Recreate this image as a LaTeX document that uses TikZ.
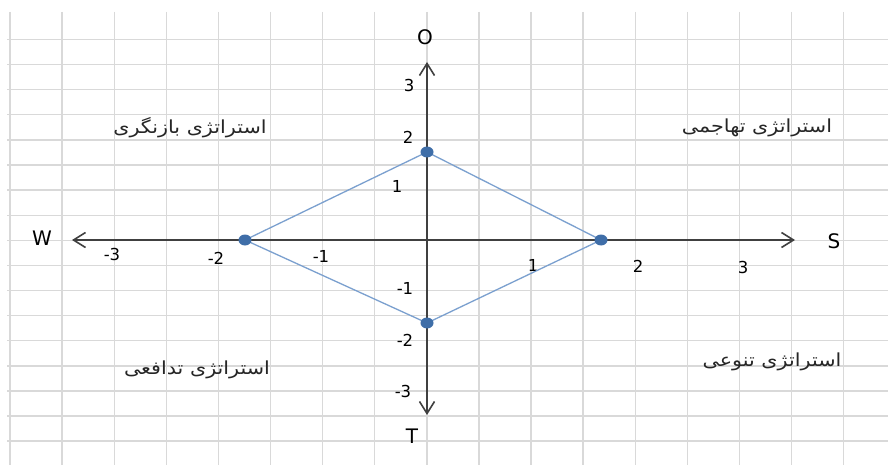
\documentclass[tikz,border=0pt]{standalone}
\usepackage{fontspec}
\setmainfont{DejaVu Sans}
\newfontfamily\arabicfont[Script=Arabic]{DejaVu Sans}
\TeXXeTstate=1
\usetikzlibrary{arrows.meta,shapes.geometric}
\definecolor{gridgray}{HTML}{D9D9D9}
\definecolor{axisgray}{HTML}{404040}
\definecolor{linebl}{HTML}{7BA0CF}
\definecolor{dotbl}{HTML}{3F6EA8}
\tikzset{
  gridline/.style={draw=gridgray, line width=1.4pt},
  axisline/.style={draw=axisgray, line width=1.8pt, -{Straight Barb[length=12pt,width=15pt,line width=1.6pt]}},
  rhomb/.style={draw=linebl, line width=1.3pt},
  dotnode/.style={ellipse, fill=dotbl, minimum width=13pt, minimum height=11pt, inner sep=0pt},
  ticklbl/.style={font=\fontsize{16.5}{16.5}\selectfont, text=black, inner sep=0pt},
  dirlbl/.style={font=\fontsize{20}{20}\selectfont, text=black, inner sep=0pt},
  stratlbl/.style={font=\fontsize{18}{20}\selectfont\arabicfont, text=black!85, inner sep=0pt, xscale=1.15}
}
\begin{document}
\begin{tikzpicture}[x=1pt,y=-1pt]
\useasboundingbox (0,0) rectangle (888,465);
\fill[white] (0,0) rectangle (888,465);
% grid
\foreach \k in {0,...,16} {
  \draw[gridline] ({10+52.1*\k},12) -- ({10+52.1*\k},465);
  \draw[gridline] (7,{39.5+25.1*\k}) -- (888,{39.5+25.1*\k});
}
% axes
\coordinate (o) at (427,240);
\coordinate (wend) at (72,240);
\coordinate (send) at (795,240);
\coordinate (oend) at (427,62);
\coordinate (tend) at (427,415);
\draw[axisline] (o) -- (wend);
\draw[axisline] (o) -- (send);
\draw[axisline] (o) -- (oend);
\draw[axisline] (o) -- (tend);
% direction labels
\node[dirlbl] (lo) at (425,37) {O};
\node[dirlbl] (lw) at (42,238) {W};
\node[dirlbl] (ls) at (834,241) {S};
\node[dirlbl] (lt) at (412,436) {T};
% tick labels
\node[ticklbl] (xm3) at (112,254) {-3};
\node[ticklbl] (xm2) at (216,258) {-2};
\node[ticklbl] (xm1) at (321,256) {-1};
\node[ticklbl] (xp1) at (533,265) {1};
\node[ticklbl] (xp2) at (638,266) {2};
\node[ticklbl] (xp3) at (743,267) {3};
\node[ticklbl] (yp3) at (409,85) {3};
\node[ticklbl] (yp2) at (408,137) {2};
\node[ticklbl] (yp1) at (397,186) {1};
\node[ticklbl] (ym1) at (405,288) {-1};
\node[ticklbl] (ym2) at (405,340) {-2};
\node[ticklbl] (ym3) at (403,391) {-3};
% diamond
\coordinate (ptop) at (427,152);
\coordinate (pright) at (601,240);
\coordinate (pbot) at (427,323);
\coordinate (pleft) at (245,240);
\draw[rhomb] (ptop) -- (pright) -- (pbot) -- (pleft) -- cycle;
\node[dotnode] (dtop) at (ptop) {};
\node[dotnode] (dright) at (pright) {};
\node[dotnode] (dbot) at (pbot) {};
\node[dotnode] (dleft) at (pleft) {};
% strategy labels
\node[stratlbl] (s1) at (190,128) {\beginR استراتژی بازنگری\endR};
\node[stratlbl] (s2) at (757,128) {\beginR استراتژی تهاجمی\endR};
\node[stratlbl] (s3) at (197,370) {\beginR استراتژی تدافعی\endR};
\node[stratlbl] (s4) at (772,362) {\beginR استراتژی تنوعی\endR};
\end{tikzpicture}
\end{document}
